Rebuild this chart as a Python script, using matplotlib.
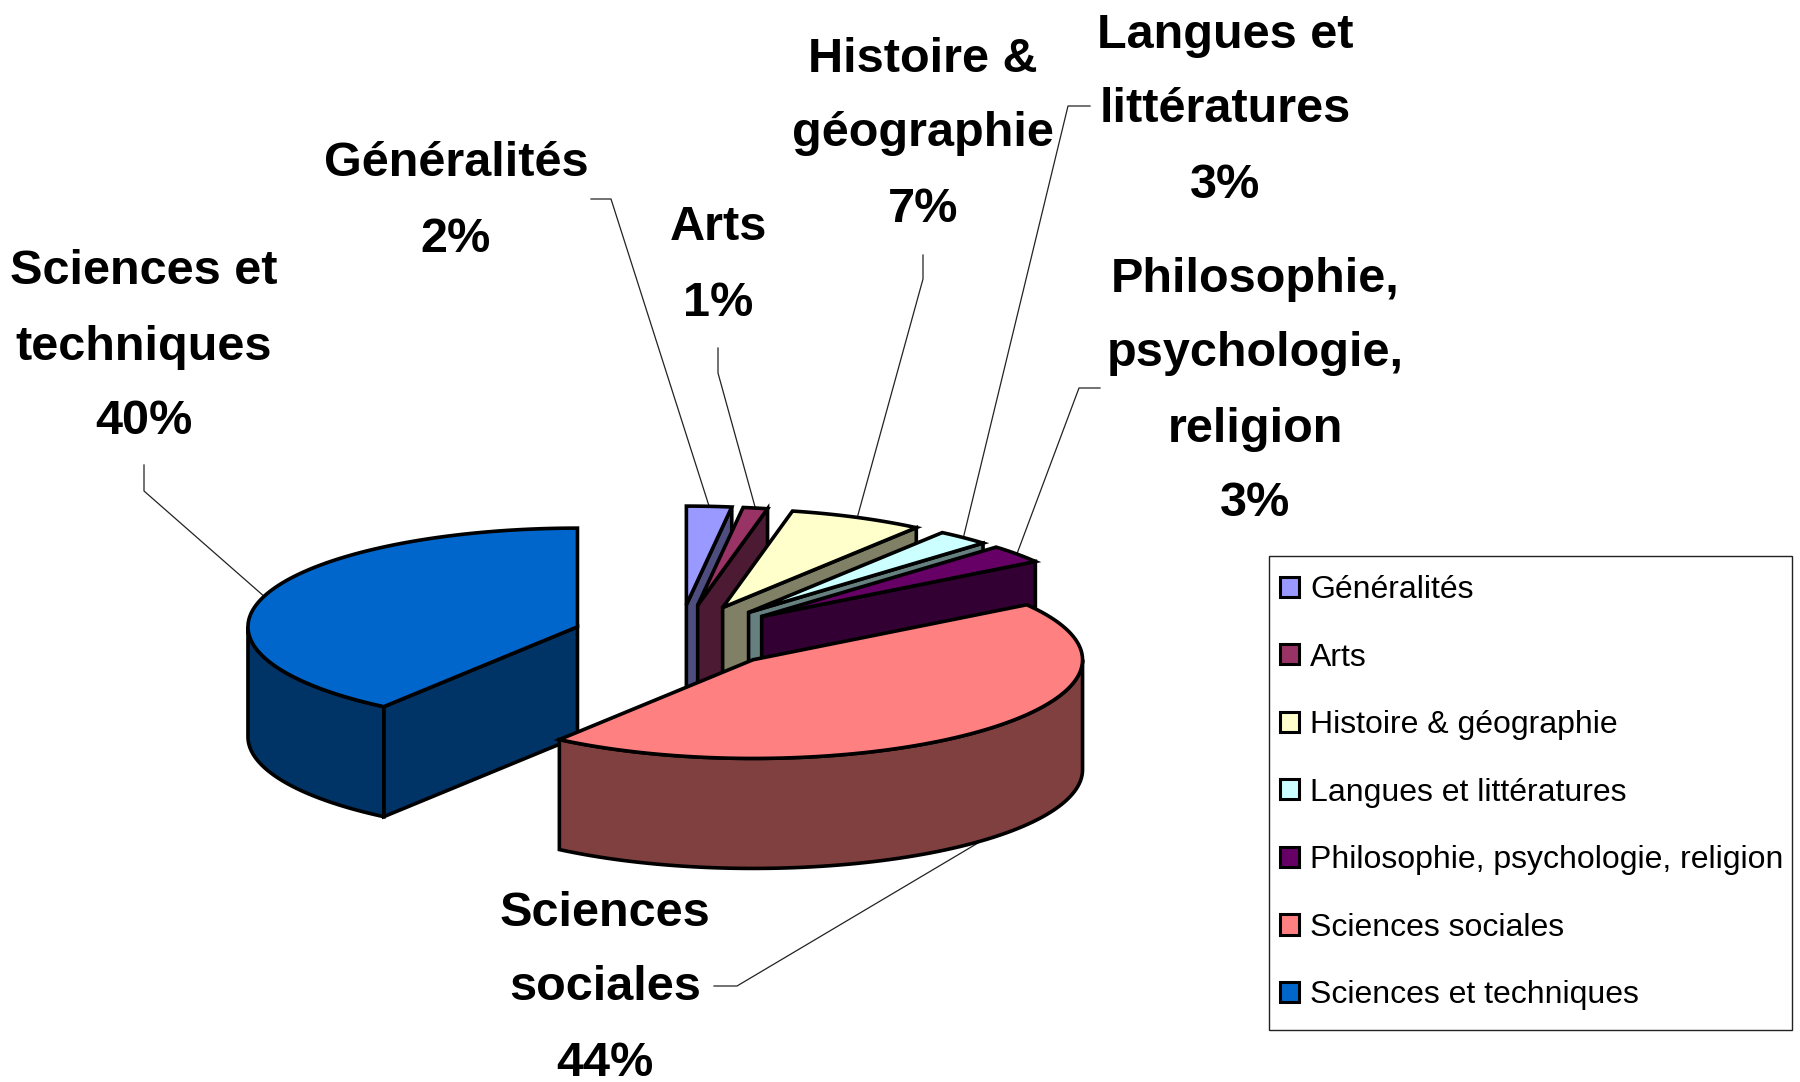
# -*- coding: utf-8 -*-
import numpy as np
import matplotlib
matplotlib.use('Agg')
import matplotlib.pyplot as plt
from matplotlib.patches import Polygon, Patch, Rectangle

# data
categories = ['Généralités', 'Arts', 'Histoire & géographie', 'Langues et littératures',
              'Philosophie, psychologie, religion', 'Sciences sociales', 'Sciences et techniques']
values = [2.2, 1.2, 6.6, 2.6, 3.0, 44.4, 40.0]
colors = ['#9999FF', '#993366', '#FFFFCC', '#CCFFFF', '#660066', '#FF8080', '#0066CC']
label_lines = [['Généralités'], ['Arts'], ['Histoire &', 'géographie'], ['Langues et', 'littératures'],
               ['Philosophie,', 'psychologie,', 'religion'], ['Sciences', 'sociales'], ['Sciences et', 'techniques']]

# layout, in pixels of the 1800x1082 picture
cx, cy = 679, 636.7
rx, ry = 329.5, 98.7
depth = 110
explode = 0.324
label_x = [456, 718, 923, 1225, 1255, 605, 144]
label_top = [164, 228, 59, 35, 279, 913, 272]
line_step = 75
elbows = [[(591, 199), (611, 199)], [(718, 348), (718, 373)], [(923, 255), (923, 279)],
          [(1090, 106), (1068, 106)], [(1100, 388), (1079, 388)], [(714, 986), (737, 986)],
          [(144, 465), (144, 491)]]
draw_order = [6, 0, 1, 2, 3, 4, 5]

plt.rcParams['font.family'] = ['Liberation Sans', 'DejaVu Sans']

fig = plt.figure(figsize=(18, 10.82), dpi=100)
ax = fig.add_axes([0, 0, 1, 1])
ax.set_xlim(0, 1800)
ax.set_ylim(1082, 0)
ax.axis('off')


def darker(c):
    r = matplotlib.colors.to_rgb(c)
    return tuple(x / 2 for x in r)


def pt(x0, y0, deg):
    a = np.radians(deg)
    return x0 + rx * np.cos(a), y0 - ry * np.sin(a)


# slices go clockwise from 12 o'clock
edges = 90 - np.cumsum([0] + values) * 3.6
geo = []
for i in range(len(values)):
    start, end = edges[i], edges[i + 1]
    mid = (start + end) / 2
    a = np.radians(mid)
    geo.append((start, end, mid, cx + explode * rx * np.cos(a), cy - explode * ry * np.sin(a)))

lw = 2.6
for i in draw_order:
    start, end, mid, x0, y0 = geo[i]
    side = darker(colors[i])
    # radial faces turned to the viewer
    for deg, sign in ((start, 1), (end, -1)):
        if np.sin(np.radians(deg + sign * 90)) < -1e-6:
            x1, y1 = pt(x0, y0, deg)
            ax.add_patch(Polygon([(x0, y0), (x1, y1), (x1, y1 + depth), (x0, y0 + depth)],
                                 fc=side, ec='k', lw=lw, zorder=3))
    # outer wall, lower half of the ellipse only
    lo, hi = max(end, -180), min(start, 0)
    if hi > lo:
        t = np.linspace(lo, hi, 80)
        x, y = pt(x0, y0, t)
        ax.add_patch(Polygon(np.r_[np.c_[x, y], np.c_[x, y + depth][::-1]],
                             fc=side, ec='k', lw=lw, zorder=3))
    # top face
    t = np.linspace(start, end, 120)
    x, y = pt(x0, y0, t)
    ax.add_patch(Polygon(np.r_[[(x0, y0)], np.c_[x, y]], fc=colors[i], ec='k', lw=lw, zorder=3))

# labels and leader lines
for i in range(len(values)):
    lines = label_lines[i] + ['%.0f%%' % values[i]]
    for k, s in enumerate(lines):
        ax.text(label_x[i], label_top[i] + k * line_step, s, ha='center', va='center',
                fontsize=35, fontweight='bold', color='k', zorder=5)
    start, end, mid, x0, y0 = geo[i]
    x1, y1 = pt(x0, y0, mid)
    if np.sin(np.radians(mid)) < -0.5:
        y1 = y1 + depth
    pts = elbows[i] + [(x1, y1)]
    ax.plot([p[0] for p in pts], [p[1] for p in pts], color='#222222', lw=0.9, zorder=2)

# legend box is drawn on its own so the padding can match
ax.add_patch(Rectangle((1269, 556), 523, 474, fc='white', ec='#222222', lw=1.0, zorder=5))
handles = [Patch(fc=c, ec='k', lw=2.2) for c in colors]
leg = ax.legend(handles, categories, loc='upper left', bbox_to_anchor=(1280 / 1800, 1 - 575 / 1082),
                fontsize=23, frameon=False, handlelength=0.6, handleheight=0.6,
                handletextpad=0.35, labelspacing=1.175, borderpad=0, borderaxespad=0)
leg.set_zorder(6)

fig.savefig('out.png', dpi=100, facecolor='white')
